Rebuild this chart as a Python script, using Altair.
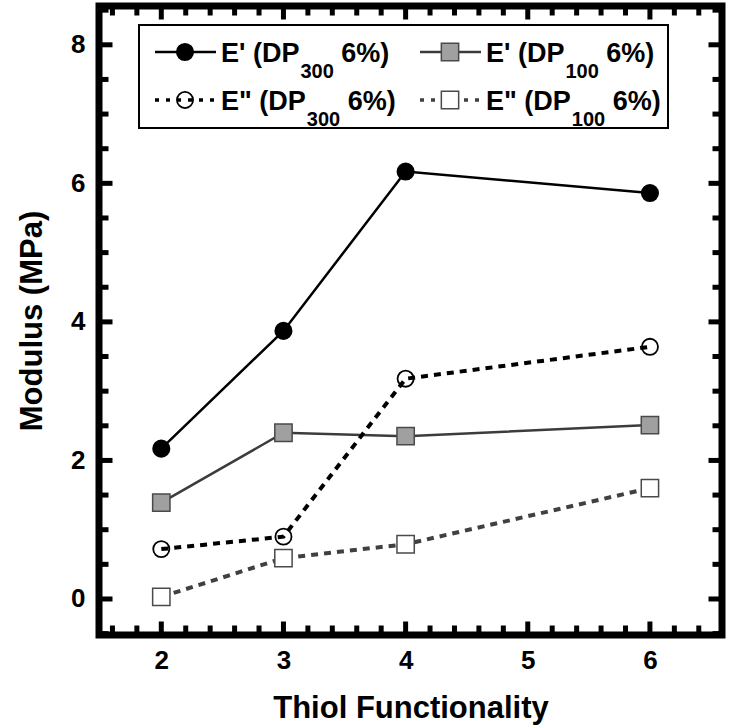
import altair as alt
import pandas as pd

# ---------------- data ----------------
thiol = [2, 3, 4, 6]
e1_dp300 = [2.17, 3.87, 6.17, 5.86]   # E' (DP300 6%)
e1_dp100 = [1.39, 2.40, 2.35, 2.51]   # E' (DP100 6%)
e2_dp300 = [0.72, 0.90, 3.18, 3.64]   # E'' (DP300 6%)
e2_dp100 = [0.03, 0.59, 0.79, 1.60]   # E'' (DP100 6%)

x_major = [2, 3, 4, 5, 6]
x_minor = [1.6, 1.8, 2.2, 2.4, 2.6, 2.8, 3.2, 3.4, 3.6, 3.8, 4.2, 4.4, 4.6, 4.8,
           5.2, 5.4, 5.6, 5.8, 6.2, 6.4]
y_major = [0, 2, 4, 6, 8]
y_minor = [-0.5, 0.5, 1, 1.5, 2.5, 3, 3.5, 4.5, 5, 5.5, 6.5, 7, 7.5, 8.5]

x_domain = [1.49, 6.59]
y_domain = [-0.52, 8.56]

# ---------------- layout ----------------
W, H = 623, 629
FONT = "Liberation Sans"

xs = alt.Scale(domain=x_domain, nice=False, zero=False)
ys = alt.Scale(domain=y_domain, nice=False, zero=False)

x_axis = alt.Axis(title="Thiol Functionality", values=x_major, format="d", ticks=False,
                  domain=False, grid=False, labelFontSize=26, labelPadding=12,
                  titleFontSize=31, titlePadding=20, labelFlush=False)
y_axis = alt.Axis(title="Modulus (MPa)", values=y_major, format="d", ticks=False,
                  domain=False, grid=False, labelFontSize=26, labelPadding=14,
                  titleFontSize=31, titlePadding=22, labelFlush=False)


def X(field="x"):
    return alt.X(f"{field}:Q", scale=xs, axis=x_axis)


def Y(field="y"):
    return alt.Y(f"{field}:Q", scale=ys, axis=y_axis)


def series_df(vals):
    return pd.DataFrame({"x": thiol, "y": vals})


layers = []

# lines
layers.append(alt.Chart(series_df(e1_dp300)).mark_line(color="black", strokeWidth=2.5)
              .encode(x=X(), y=Y()))
layers.append(alt.Chart(series_df(e1_dp100)).mark_line(color="#3c3c3c", strokeWidth=2.5)
              .encode(x=X(), y=Y()))
layers.append(alt.Chart(series_df(e2_dp300)).mark_line(color="black", strokeWidth=4,
                                                       strokeDash=[7, 6])
              .encode(x=X(), y=Y()))
layers.append(alt.Chart(series_df(e2_dp100)).mark_line(color="#404040", strokeWidth=4,
                                                       strokeDash=[7, 6])
              .encode(x=X(), y=Y()))

# markers
layers.append(alt.Chart(series_df(e1_dp300)).mark_point(shape="circle", filled=True,
                                                        fill="black", stroke="black",
                                                        size=260, opacity=1)
              .encode(x=X(), y=Y()))
layers.append(alt.Chart(series_df(e1_dp100)).mark_point(shape="square", filled=True,
                                                        fill="#a0a0a0", stroke="#4a4a4a",
                                                        strokeWidth=1.5, size=300, opacity=1)
              .encode(x=X(), y=Y()))
layers.append(alt.Chart(series_df(e2_dp300)).mark_point(shape="circle", filled=False,
                                                        stroke="black", strokeWidth=1.8,
                                                        size=260, opacity=1)
              .encode(x=X(), y=Y()))
layers.append(alt.Chart(series_df(e2_dp100)).mark_point(shape="square", filled=True,
                                                        fill="white", stroke="#4a4a4a",
                                                        strokeWidth=1.5, size=300, opacity=1)
              .encode(x=X(), y=Y()))

# frame
one = pd.DataFrame({"a": [0]})
layers.append(alt.Chart(one).mark_rect(fill=None, fillOpacity=0, stroke="black",
                                       strokeWidth=7).encode(
    x=alt.value(0), x2=alt.value(W), y=alt.value(0), y2=alt.value(H)))

# inward ticks on all four sides
MAJ, MIN = 13.5, 9.5


def xticks(vals, length):
    df = pd.DataFrame({"x": vals})
    bottom = alt.Chart(df).mark_rule(color="black", strokeWidth=5).encode(
        x=X(), y=alt.value(H), y2=alt.value(H - length))
    top = alt.Chart(df).mark_rule(color="black", strokeWidth=5).encode(
        x=X(), y=alt.value(0), y2=alt.value(length))
    return [bottom, top]


def yticks(vals, length):
    df = pd.DataFrame({"y": vals})
    left = alt.Chart(df).mark_rule(color="black", strokeWidth=5).encode(
        y=Y(), x=alt.value(0), x2=alt.value(length))
    right = alt.Chart(df).mark_rule(color="black", strokeWidth=5).encode(
        y=Y(), x=alt.value(W), x2=alt.value(W - length))
    return [left, right]


layers += xticks(x_major, MAJ) + xticks(x_minor, MIN)
layers += yticks(y_major, MAJ) + yticks(y_minor, MIN)

# ---------------- legend (drawn by hand to allow subscripts) ----------------
leg_box = alt.Chart(one).mark_rect(
    fill="white", stroke="black", strokeWidth=2).encode(
    x=alt.value(40), x2=alt.value(569), y=alt.value(19), y2=alt.value(122))
layers.append(leg_box)

ARIAL_B = {"E": 667, "'": 238, '"': 474, " ": 278, "(": 333, "D": 722, "P": 667,
           "6": 556, "%": 889, ")": 333, "0": 556, "1": 556, "3": 556}


def tw(s, fs):
    return sum(ARIAL_B[c] for c in s) * fs / 1000.0


FS, FS_SUB = 27, 20

legend_entries = [
    # (main text, subscript, column x of line start, row y, line style, marker)
    ("E' (DP", "300", 56, 46, dict(color="black", strokeWidth=2.5),
     dict(shape="circle", filled=True, fill="black", stroke="black", size=260)),
    ("E' (DP", "100", 321, 46, dict(color="#3c3c3c", strokeWidth=2.5),
     dict(shape="square", filled=True, fill="#a0a0a0", stroke="#4a4a4a", strokeWidth=1.5, size=300)),
    ('E" (DP', "300", 56, 94, dict(color="black", strokeWidth=3.5, strokeDash=[4, 7]),
     dict(shape="circle", filled=False, stroke="black", strokeWidth=1.8, size=260)),
    ('E" (DP', "100", 321, 94, dict(color="#404040", strokeWidth=3.5, strokeDash=[4, 7]),
     dict(shape="square", filled=True, fill="white", stroke="#4a4a4a", strokeWidth=1.5, size=300)),
]

for main, sub, lx, ly, lstyle, mstyle in legend_entries:
    layers.append(alt.Chart(one).mark_rule(**lstyle).encode(
        x=alt.value(lx), x2=alt.value(lx + 61), y=alt.value(ly)))
    layers.append(alt.Chart(one).mark_point(opacity=1, **mstyle).encode(
        x=alt.value(lx + 30), y=alt.value(ly)))
    t0 = lx + 66
    t1 = t0 + tw(main, FS) + 1
    t2 = t1 + tw(sub, FS_SUB) + tw(" ", FS)
    for txt, tx, ty, fs in [(main, t0, ly + 10, FS), (sub, t1, ly + 26, FS_SUB),
                            ("6%)", t2, ly + 10, FS)]:
        layers.append(alt.Chart(one).mark_text(
            align="left", baseline="alphabetic", font=FONT, fontWeight="bold",
            fontSize=fs, color="black").encode(
            x=alt.value(tx), y=alt.value(ty), text=alt.value(txt)))

chart = alt.layer(*layers).properties(
    width=W, height=H,
    autosize=alt.AutoSizeParams(type="none"),
    padding={"left": 99, "top": 6, "right": 8, "bottom": 92},
    background="white",
).configure_view(
    stroke=None
).configure_axis(
    labelFont=FONT, titleFont=FONT, labelFontWeight="bold", titleFontWeight="bold",
    labelColor="black", titleColor="black"
)

chart.save("out.html", embed_options={"renderer": "svg", "actions": False})
